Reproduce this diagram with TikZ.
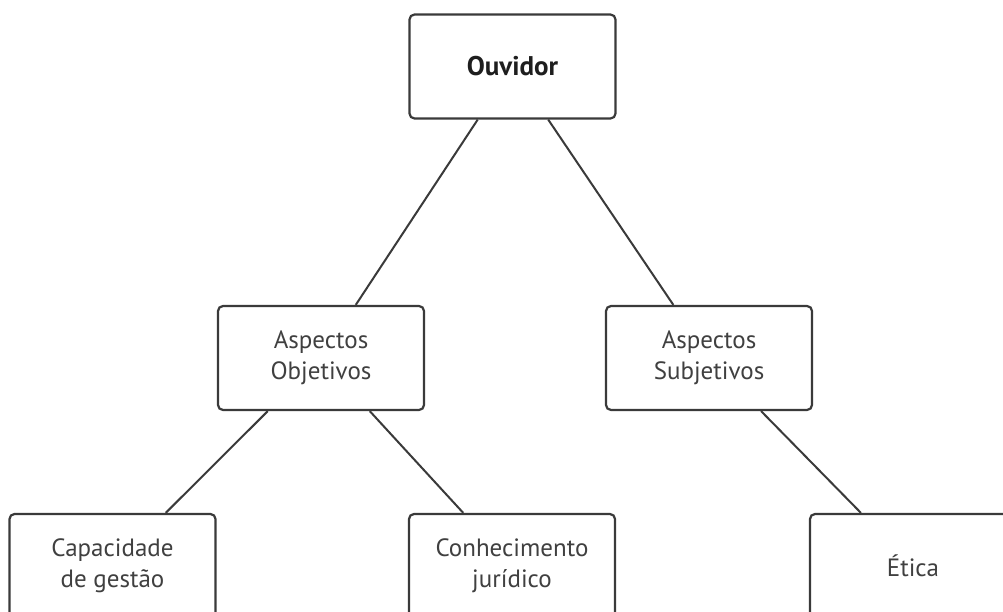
\documentclass[tikz,border=0pt]{standalone}
\usepackage{fontspec}
\setmainfont{PT Sans}
\definecolor{linecol}{HTML}{3A3A3A}
\definecolor{textcol}{HTML}{404040}
\definecolor{boldcol}{HTML}{1E1E1E}
\begin{document}
\begin{tikzpicture}[x=1pt,y=-1pt,
  box/.style={draw=linecol, line width=2.2pt, rounded corners=5pt, fill=white,
    minimum width=206pt, minimum height=104pt, align=center, inner sep=0pt,
    text=textcol, font=\fontsize{25}{31}\selectfont},
  conn/.style={draw=linecol, line width=2pt}]
\path[use as bounding box] (0,0) rectangle (1003,612);
\clip (0,0) rectangle (1003,612);
\node[box, text=boldcol, font=\fontsize{27}{31}\selectfont\bfseries] (ouv) at (512.5,66.5) {Ouvidor};
\node[box] (obj) at (321,358) {Aspectos\\Objetivos};
\node[box] (sub) at (709,358) {Aspectos\\Subjetivos};
\node[box] (cap) at (112.5,566) {Capacidade\\de gestão};
\node[box] (con) at (512,566) {Conhecimento\\jurídico};
\node[box] (eti) at (913,566) {Ética};
\draw[conn] (ouv) -- (obj);
\draw[conn] (ouv) -- (sub);
\draw[conn] (obj) -- (cap);
\draw[conn] (obj) -- (con);
\draw[conn] (sub) -- (eti);
\end{tikzpicture}
\end{document}
